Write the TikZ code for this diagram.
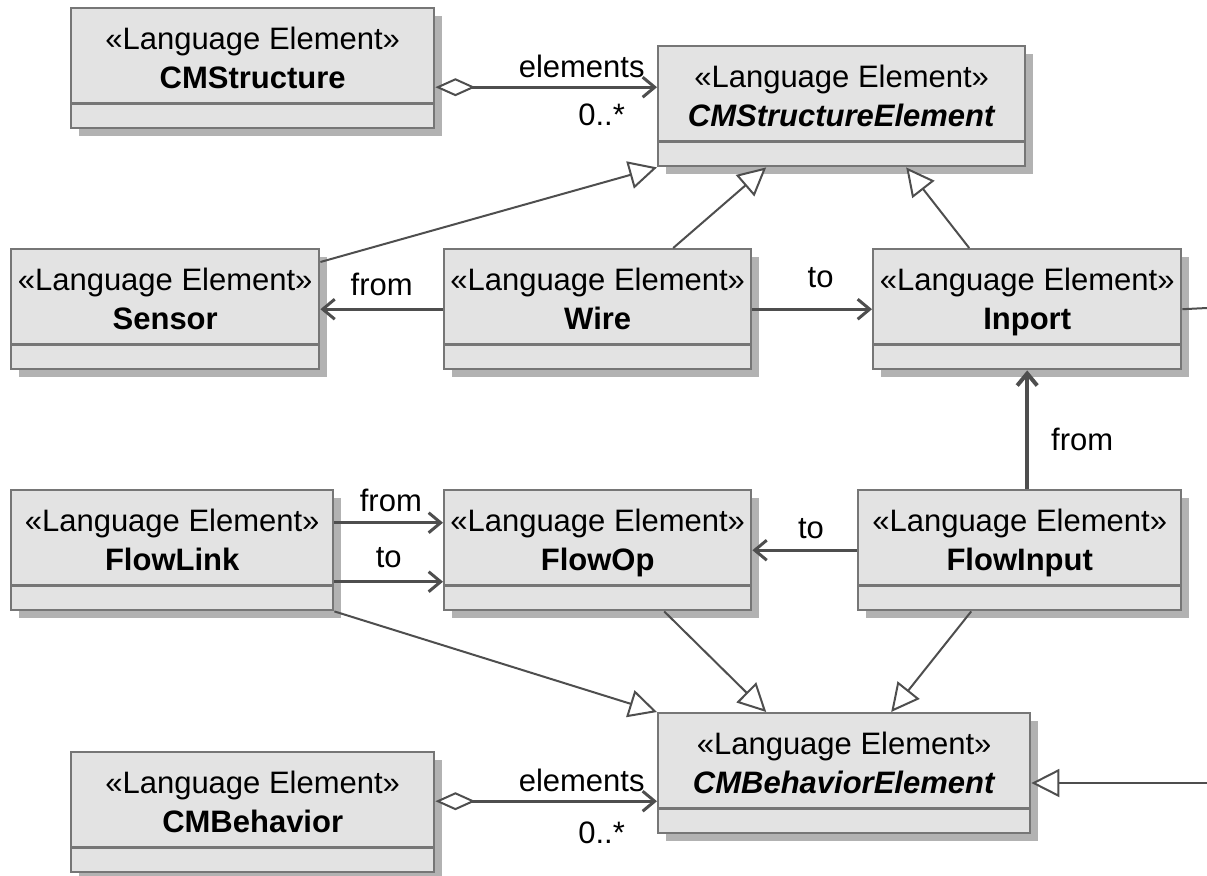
\documentclass[tikz,border=0pt]{standalone}
\usepackage{fontspec}
\setmainfont{Liberation Sans}
\usetikzlibrary{arrows.meta, positioning}
\definecolor{boxfill}{RGB}{227,227,227}
\definecolor{boxline}{RGB}{118,118,118}
\definecolor{shadowfill}{RGB}{178,178,178}
\definecolor{linkcol}{RGB}{78,78,78}

\begin{document}
\begin{tikzpicture}[
            x=0.5pt, y=-0.5pt,
            classbox/.style={draw=boxline, fill=boxfill, line width=1.2pt, minimum height=60pt, anchor=north west, inner sep=0pt},
            classtext/.style={align=center, anchor=north, font=\fontsize{15.5}{19.5}\selectfont, inner sep=0pt},
            edgetext/.style={font=\fontsize{15.5}{19.5}\selectfont, inner sep=1pt},
            assoc/.style={draw=linkcol, line width=1.5pt, -{Straight Barb[length=6pt, width=10pt]}},
            aggr/.style={draw=linkcol, line width=1.5pt, {Diamond[fill=white, length=20pt, width=9pt, line width=1pt]}-{Straight Barb[length=6pt, width=10pt]}},
            gen/.style={draw=linkcol, line width=1pt, -{Triangle[fill=white, length=14pt, width=14pt]}},
        ]
        \useasboundingbox (0,0) rectangle (1207,875);

        \foreach \id/\x/\y/\w/\name in {
            cms/70/7/363/\textbf{CMStructure},
            cse/657/45/367/\textbf{\textit{CMStructureElement}},
            sen/10/248/308/\textbf{Sensor},
            wire/443/248/307/\textbf{Wire},
            inp/872/248/308/\textbf{Inport},
            flk/10/489/322/\textbf{FlowLink},
            fop/443/489/307/\textbf{FlowOp},
            fin/857/489/323/\textbf{FlowInput},
            cbe/657/712/372/\textbf{\textit{CMBehaviorElement}},
            cbh/70/751/363/\textbf{CMBehavior}}{
            \fill[shadowfill] (\x+9,\y+9) rectangle (\x+\w+9,\y+129);
            \node[classbox, minimum width=\w*0.5pt] (\id) at (\x,\y) {};
            \draw[boxline, line width=1.2pt] ([yshift=13pt]\id.south west) -- ([yshift=13pt]\id.south east);
            \node[classtext] (\id-txt) at ([yshift=-9.8pt]\id.north) {«Language Element»\\\name};
        }

        \draw[aggr] ([yshift=-9.5pt]cms.east) -- ([yshift=-9.5pt]cms.east -| cse.west)
            node[edgetext, pos=0.66, above=3pt] {elements}
            node[edgetext, pos=0.75, below=6.5pt] {0..*};
        \draw[aggr] ([yshift=5.5pt]cbh.east) -- ([yshift=5.5pt]cbh.east -| cbe.west)
            node[edgetext, pos=0.66, above=3pt] {elements}
            node[edgetext, pos=0.75, below=8.5pt] {0..*};

        \draw[gen] ([yshift=-7pt]sen.north east) -- (cse.south west);
        \draw[gen] ([xshift=37.75pt]wire.north) -- ([xshift=-37.75pt]cse.south);
        \draw[gen] ([xshift=-29pt]inp.north) -- ([xshift=32.25pt]cse.south);
        \draw[gen] (flk.south east) -- (cbe.north west);
        \draw[gen] ([xshift=33.25pt]fop.south) -- ([xshift=-39pt]cbe.north);
        \draw[gen] ([xshift=-24.25pt]fin.south) -- ([xshift=23.5pt]cbe.north);
        \coordinate (cbein) at (1207,783);
        \draw[gen] (cbein) -- (cbein -| cbe.east);

        \coordinate (inpout) at (1207,308);
        \draw[linkcol, line width=1pt] (inp.east) -- (inpout);

        \draw[assoc] (wire.west) -- (sen.east) node[edgetext, pos=0.5, above=5pt] {from};
        \draw[assoc] (wire.east) -- (inp.west) node[edgetext, pos=0.57, above=9pt] {to};
        \draw[assoc, line width=2pt] (inp.south |- fin.north) -- (inp.south) node[edgetext, pos=0.42, right=10pt] {from};
        \draw[assoc] ([yshift=13.75pt]flk.east) -- ([yshift=13.75pt]flk.east -| fop.west) node[edgetext, pos=0.52, above=3.5pt] {from};
        \draw[assoc] ([yshift=-15.75pt]flk.east) -- ([yshift=-15.75pt]flk.east -| fop.west) node[edgetext, pos=0.5, above=5pt] {to};
        \draw[assoc] (fin.west) -- (fop.east) node[edgetext, pos=0.44, above=4pt] {to};
        \end{tikzpicture}
\end{document}
